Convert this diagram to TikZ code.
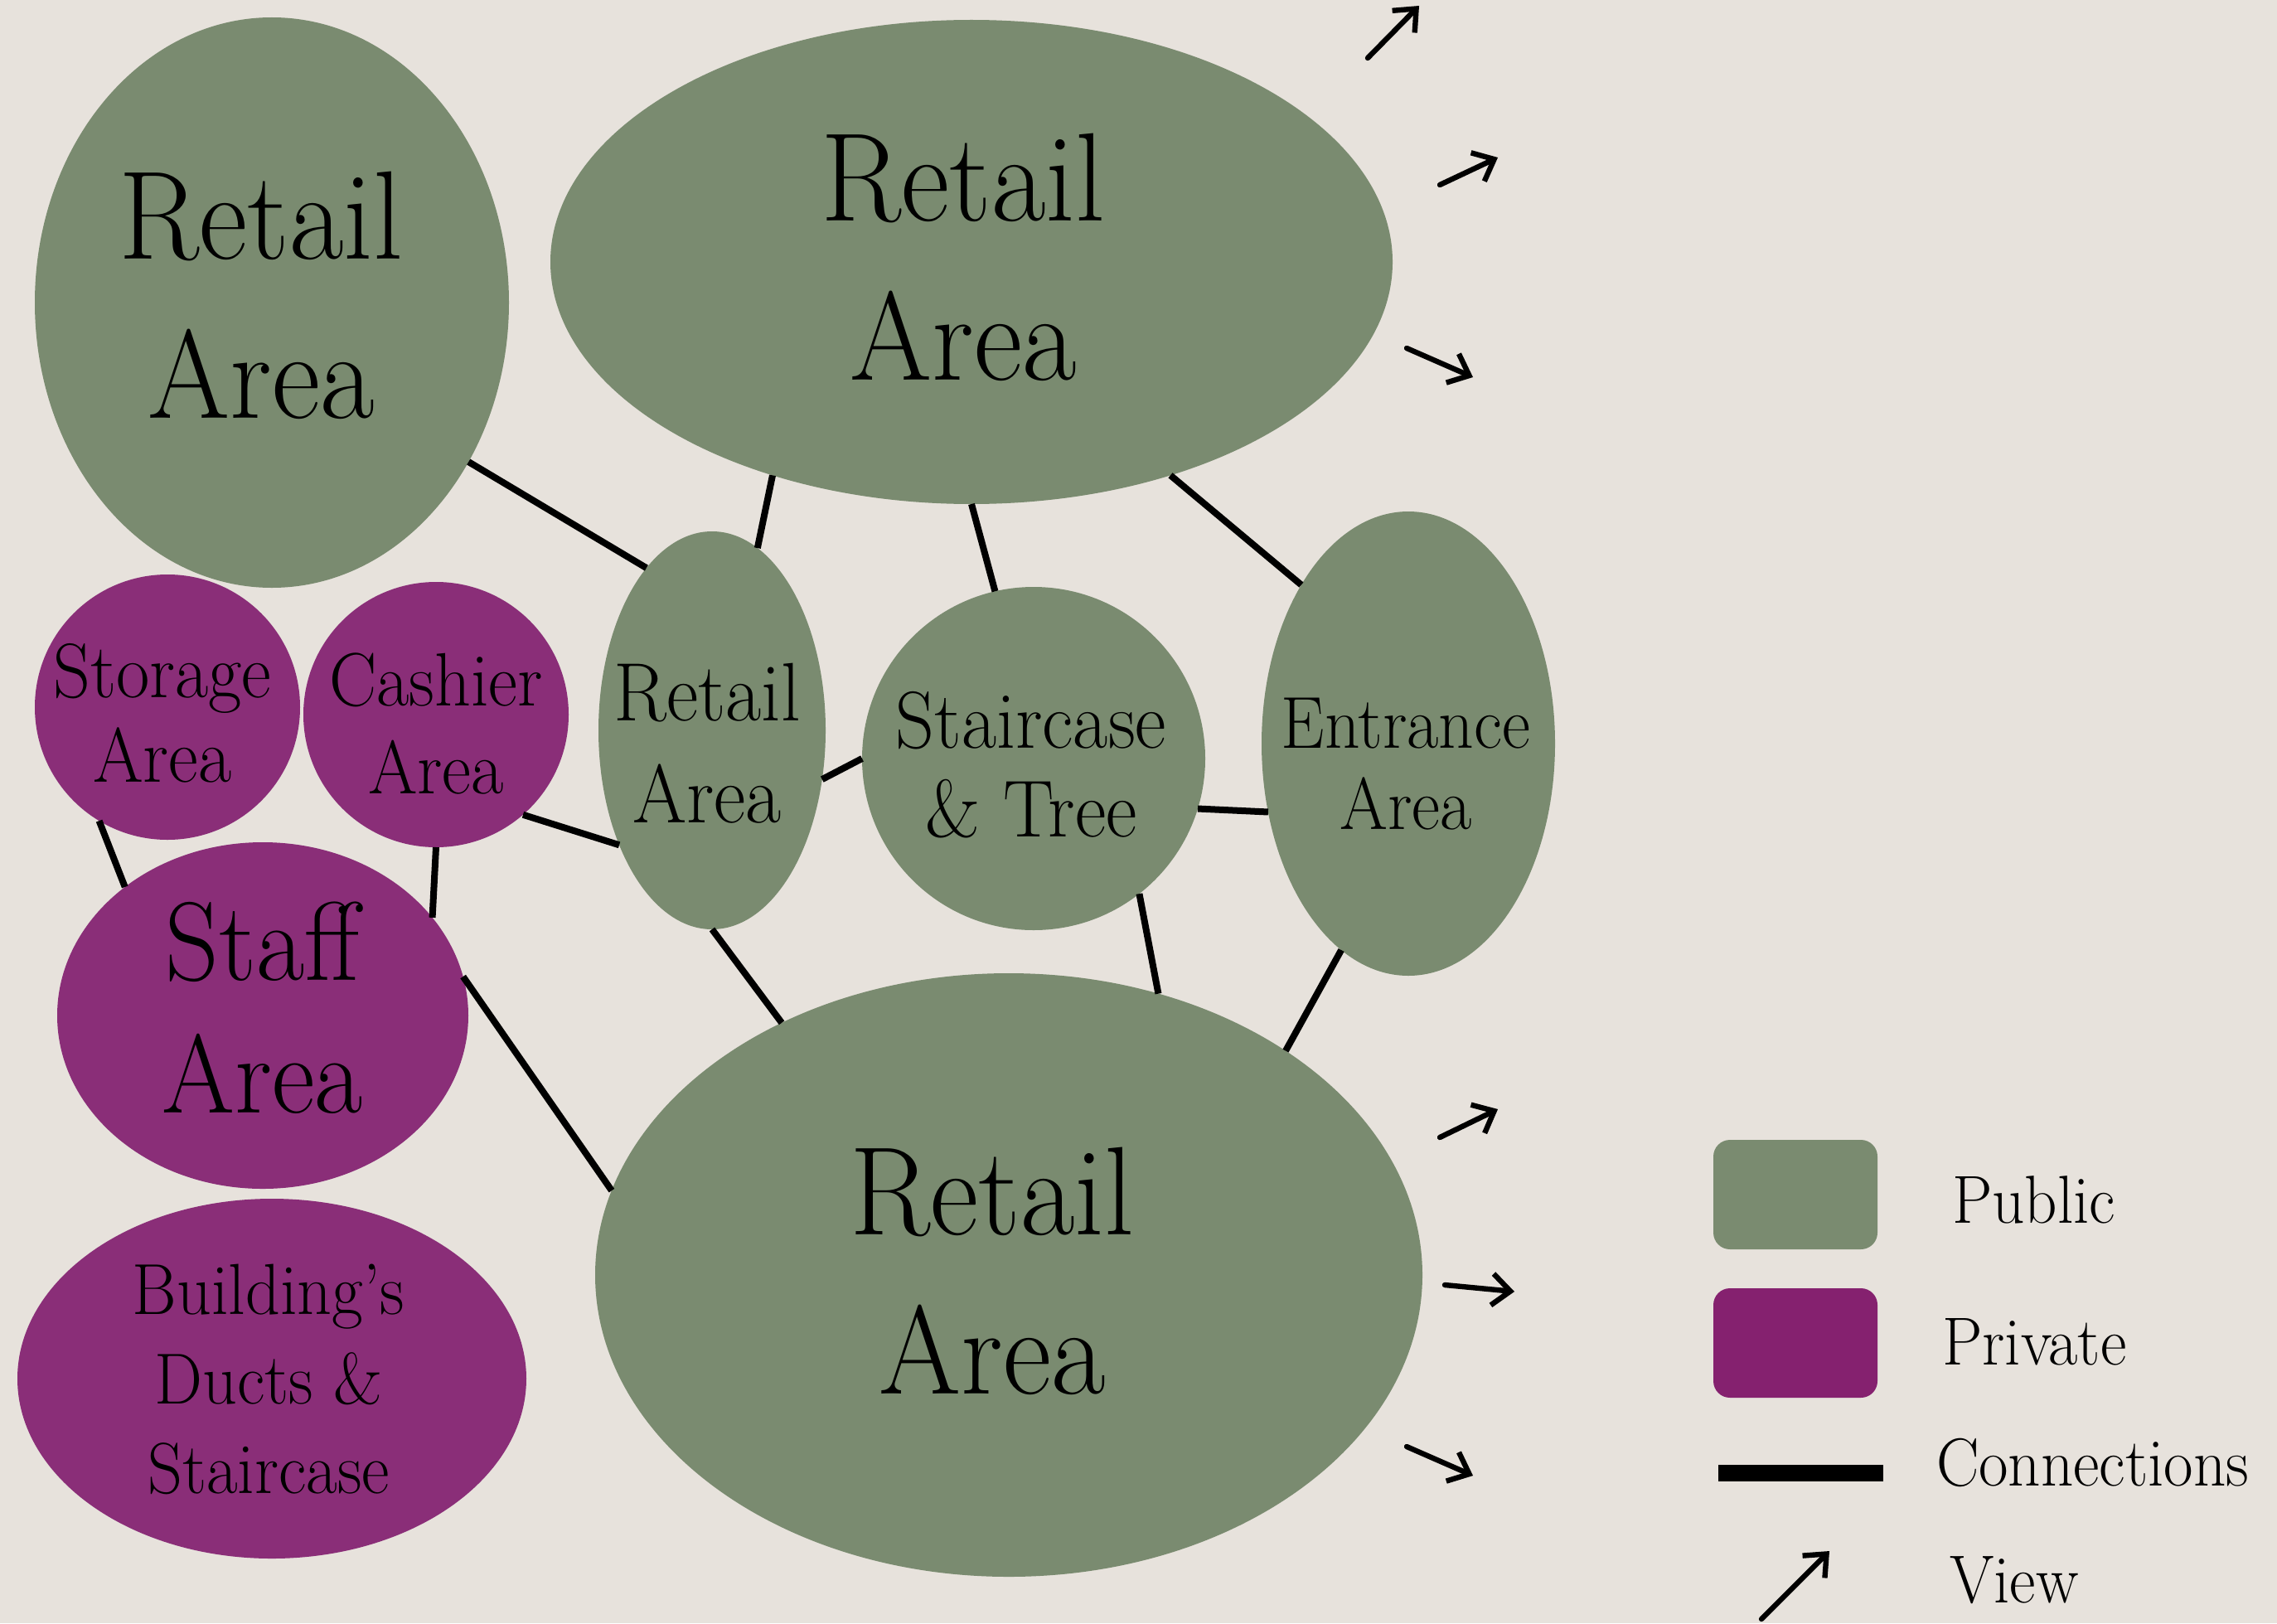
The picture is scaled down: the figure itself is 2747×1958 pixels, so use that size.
\documentclass[tikz,border=0pt]{standalone}
\usepackage{fontspec}
\setmainfont{lmroman17-regular.otf}[FakeStretch=0.94]
\usetikzlibrary{shapes.geometric,arrows.meta}

\definecolor{paper}{RGB}{231,226,220}
\definecolor{pubgreen}{RGB}{122,139,112}
\definecolor{privpurple}{RGB}{138,46,120}
\definecolor{legpurple}{RGB}{133,33,111}

\tikzset{every picture/.style={line width=2pt}}
\tikzset{
  zone/.style={ellipse, inner sep=0pt, outer sep=0pt},
  pub/.style={zone, fill=pubgreen},
  priv/.style={zone, fill=privpurple},
  link/.style={line width=2pt},
  view/.style={line width=1.6pt, line cap=round, line join=round, -{Straight Barb[length=5.5pt,width=9.5pt]}},
  txt/.style={align=center, inner sep=0pt},
  legbox/.style={rectangle, rounded corners=5pt, minimum width=49.5pt, minimum height=33pt, inner sep=0pt},
  legtxt/.style={anchor=west, inner sep=0pt, font=\fontsize{20.5}{24}\selectfont}
}

\begin{document}
\begin{tikzpicture}[x=0.25pt,y=0.25pt,yscale=-1,xscale=1]

\fill [paper] (0,0) rectangle (2747,1958);
\useasboundingbox (0,0) rectangle (2747,1958);

% zones
\node [pub, minimum width=143pt, minimum height=172pt] (rtl) at (328,365) {};
\node [pub, minimum width=254pt, minimum height=146pt] (rtop) at (1172,316) {};
\node [pub, minimum width=68.5pt, minimum height=120pt] (rmid) at (859,881) {};
\node [pub, minimum width=103.5pt, minimum height=103.5pt] (stair) at (1247,915) {};
\node [pub, minimum width=88.5pt, minimum height=140pt] (entr) at (1699,897) {};
\node [pub, minimum width=249.5pt, minimum height=182pt] (rbot) at (1217,1538) {};
\node [priv, minimum width=80pt, minimum height=80pt] (stor) at (202,853) {};
\node [priv, minimum width=80pt, minimum height=80pt] (cash) at (526,862) {};
\node [priv, minimum width=124pt, minimum height=104.5pt] (staff) at (317,1225) {};
\node [priv, minimum width=153.5pt, minimum height=108.5pt] (duct) at (328,1663) {};

% connections
\draw [link] (rtl.-39) -- (rmid.112);
\draw [link] (rtop.-133) -- (rmid.76);
\draw [link] (rtop.-90) -- (stair.103);
\draw [link] (rtop.-47) -- (entr.124);
\draw [link] (rmid.-24) -- (stair.180);
\draw [link] (stair.-17) -- (entr.-154);
\draw [link] (rmid.-90) -- (rbot.132);
\draw [link] (stair.-52) -- (rbot.62);
\draw [link] (entr.-108) -- (rbot.39);
\draw [link] (cash.-49) -- (rmid.-129);
\draw [link] (cash.-90) -- (staff.30);
\draw [link] (stor.-121) -- (staff.137);
\draw [link] (staff.11) -- (rbot.168);

% labels
\node [txt, font=\fontsize{38}{48}\selectfont] (t-rtl) at (315,356) {Retail\\Area};
\node [txt, font=\fontsize{38}{48}\selectfont] (t-rtop) at (1162,310) {Retail\\Area};
\node [txt, font=\fontsize{25}{30.7}\selectfont] (t-rmid) at (853,897) {Retail\\Area};
\node [txt, font=\fontsize{24.4}{26.7}\selectfont] (t-stair) at (1244,923) {Staircase\\\&~Tree};
\node [txt, font=\fontsize{22.2}{24.5}\selectfont] (t-entr) at (1696,922) {Entrance\\Area};
\node [txt, font=\fontsize{38}{48}\selectfont] (t-rbot) at (1197,1533) {Retail\\Area};
\node [txt, font=\fontsize{23.3}{25.4}\selectfont] (t-stor) at (196,860) {Storage\\Area};
\node [txt, font=\fontsize{22.8}{26.3}\selectfont] (t-cash) at (526,873) {Cashier\\Area};
\node [txt, font=\fontsize{33.7}{40}\selectfont] (t-staff) at (317,1216) {Staff\\Area};
\node [txt, font=\fontsize{21.8}{27}\selectfont] (t-duct) at (324,1664) {Building’s\\Ducts \&\\Staircase};

% views
\draw [view] (1650,70) -- (1712,7);
\draw [view] (1737,223) -- (1807,190);
\draw [view] (1697,420) -- (1777,455);
\draw [view] (1737,1372) -- (1807,1338);
\draw [view] (1743,1550) -- (1827,1558);
\draw [view] (1697,1745) -- (1777,1780);

% legend
\node [legbox, fill=pubgreen] (k-pub) at (2166,1441) {};
\node [legbox, fill=legpurple] (k-priv) at (2166,1620) {};
\coordinate (k-la) at (2073,1777);
\coordinate (k-lb) at (2272,1777);
\draw [line width=5pt] (k-la) -- (k-lb);
\draw [view] (2125,1953) -- (2207,1871);
\node [legtxt] (l-pub) at (2351,1447) {Public};
\node [legtxt] (l-priv) at (2339,1619) {Private};
\node [legtxt] (l-conn) at (2332,1764) {Connections};
\node [legtxt] (l-view) at (2348,1906) {View};

\end{tikzpicture}
\end{document}
